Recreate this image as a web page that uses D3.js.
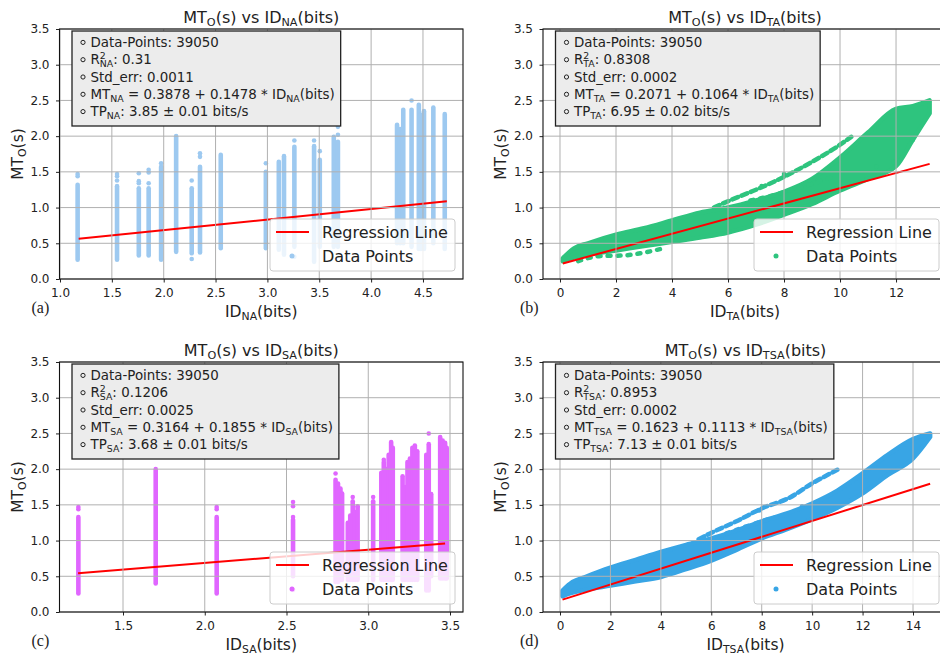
<!DOCTYPE html>
<html>
<head>
<meta charset="utf-8">
<title>MT vs ID</title>
<script src="https://cdn.jsdelivr.net/npm/d3@7"></script>
<style>
  * { margin: 0; padding: 0; }
  body { background: #fff; }
  svg { display: block; font-family: "DejaVu Sans", sans-serif; }
</style>
</head>
<body>
<div id="chart"></div>
<script>
// ---- values ----
var subs = ['NA', 'TA', 'SA', 'TSA'];
var tags = ['(a)', '(b)', '(c)', '(d)'];
var pointCount = ['39050', '39050', '39050', '39050'];
var r2 = ['0.31', '0.8308', '0.1206', '0.8953'];
var stdErr = ['0.0011', '0.0002', '0.0025', '0.0002'];
var intercept = ['0.3878', '0.2071', '0.3164', '0.1623'];
var slope = ['0.1478', '0.1064', '0.1855', '0.1113'];
var tp = ['3.85', '6.95', '3.68', '7.13'];
var tpErr = ['0.01', '0.02', '0.01', '0.01'];
var colors = ['#9dc9f0', '#2ec47e', '#e066ff', '#38a5e5'];

var yTicks = [0, 0.5, 1, 1.5, 2, 2.5, 3, 3.5];
var xTicksNA = [1, 1.5, 2, 2.5, 3, 3.5, 4, 4.5];
var xTicksTA = [0, 2, 4, 6, 8, 10, 12];
var xTicksSA = [1.5, 2, 2.5, 3, 3.5];
var xTicksTSA = [0, 2, 4, 6, 8, 10, 12, 14];

// regression line end points
var regNA = [[1.18, 0.562], [4.73, 1.087]];
var regTA = [[0.1, 0.218], [13.2, 1.612]];
var regSA = [[1.225, 0.543], [3.47, 0.960]];
var regTSA = [[0.1, 0.173], [14.68, 1.796]];

// (a) vertical strips: [ID, lowest MT, highest MT] and loose points
var colsNA = [
  [1.17, 0.27, 1.32], [1.55, 0.27, 1.30], [1.76, 0.33, 1.27], [1.855, 0.33, 1.27],
  [1.975, 0.27, 1.57], [2.12, 0.38, 2.0], [2.27, 0.36, 1.27], [2.35, 0.37, 1.57],
  [2.55, 0.43, 1.74], [2.985, 0.43, 1.5], [3.11, 0.41, 1.64], [3.16, 0.34, 1.72],
  [3.26, 0.45, 1.85], [3.45, 0.24, 1.86], [3.505, 0.45, 1.67], [3.64, 0.45, 1.99],
  [3.68, 0.45, 1.92], [4.25, 0.5, 2.16], [4.28, 0.5, 2.1], [4.31, 0.5, 2.37],
  [4.39, 0.45, 2.37], [4.46, 0.42, 2.44], [4.48, 0.42, 2.3], [4.51, 0.42, 2.35],
  [4.60, 0.5, 2.40], [4.71, 0.42, 2.31]
];
var dotsNA = [
  [1.17, 1.47], [1.17, 1.44], [1.55, 1.47], [1.55, 1.44], [1.55, 1.38],
  [1.76, 1.48], [1.76, 1.37], [1.76, 1.34], [1.855, 1.53], [1.855, 1.49],
  [1.855, 1.34], [1.975, 1.62], [2.27, 1.38], [2.27, 0.28], [2.35, 1.76],
  [2.35, 1.71], [2.985, 1.62], [3.26, 1.94], [3.26, 0.31], [3.45, 1.94],
  [3.505, 1.79], [3.68, 2.13], [3.68, 2.02], [4.39, 2.5]
];

// (c) vertical strips and loose points
var colsSA = [
  [1.227, 0.26, 1.33], [1.70, 0.40, 2.0], [2.073, 0.26, 1.33], [2.54, 0.5, 1.29],
  [2.80, 0.42, 1.85], [2.815, 0.42, 1.8], [2.83, 0.45, 1.73], [2.84, 0.45, 1.66],
  [2.875, 0.45, 1.25], [2.89, 0.45, 1.35], [2.905, 0.45, 1.55], [2.92, 0.45, 1.4],
  [2.935, 0.45, 1.47], [3.03, 0.45, 1.55], [3.08, 0.45, 1.95], [3.095, 0.45, 2.1],
  [3.11, 0.45, 2.0], [3.125, 0.45, 2.2], [3.14, 0.45, 2.38], [3.15, 0.45, 2.3],
  [3.21, 0.45, 1.9], [3.225, 0.45, 1.75], [3.24, 0.45, 2.1], [3.255, 0.45, 2.15],
  [3.27, 0.45, 2.3], [3.285, 0.45, 2.33], [3.30, 0.45, 2.25], [3.355, 0.3, 2.2],
  [3.37, 0.3, 2.35], [3.385, 0.5, 1.65], [3.44, 0.47, 2.45], [3.455, 0.47, 2.4],
  [3.47, 0.47, 2.37], [3.48, 0.47, 2.3]
];
var dotsSA = [
  [1.227, 1.47], [1.227, 1.44], [2.073, 1.47], [2.073, 1.44], [2.54, 1.54],
  [2.54, 1.48], [2.54, 1.33], [2.54, 0.31], [3.37, 2.5], [2.80, 1.94],
  [2.905, 1.61], [2.935, 1.48], [3.095, 2.13], [3.03, 1.61]
];

// (b) dense band: ID, lower MT edge, upper MT edge, plus thin streaks
var bandTAx = [0.1, 0.5, 1, 2, 3, 4, 5, 6, 7, 8, 9, 10, 11, 12, 12.6, 13.2];
var bandTAlo = [0.25, 0.3, 0.34, 0.4, 0.46, 0.52, 0.58, 0.65, 0.76, 0.9, 1.05, 1.24, 1.4, 1.58, 1.95, 2.32];
var bandTAhi = [0.29, 0.43, 0.5, 0.62, 0.71, 0.82, 0.93, 1.0, 1.1, 1.22, 1.4, 1.7, 2.05, 2.38, 2.42, 2.5];
var streaksTA = [
  [[5.5, 1.0], [5.95, 1.08], [7.0, 1.25], [8.0, 1.43], [9.0, 1.64], [10.0, 1.88], [10.4, 1.99]],
  [[0.65, 0.25], [1.4, 0.32], [2.3, 0.33], [3.0, 0.37], [3.7, 0.43]],
  [[6.8, 1.1], [7.6, 1.17], [8.2, 1.24], [8.9, 1.32], [9.75, 1.43]]
];
var dotsTA = [[12.6, 1.95], [11.9, 1.64], [11.3, 1.57], [8.0, 1.47], [7.2, 1.3]];

// (d) dense band and streaks
var bandTSAx = [0.1, 0.5, 1, 2, 3, 4, 5, 6, 7, 8, 9, 10, 11, 12, 13, 14, 14.68];
var bandTSAlo = [0.22, 0.27, 0.31, 0.37, 0.43, 0.49, 0.6, 0.72, 0.87, 1.03, 1.16, 1.3, 1.46, 1.66, 1.92, 2.15, 2.45];
var bandTSAhi = [0.3, 0.42, 0.49, 0.62, 0.73, 0.84, 0.94, 1.03, 1.14, 1.27, 1.38, 1.52, 1.7, 1.94, 2.2, 2.42, 2.5];
var streaksTSA = [
  [[5.5, 1.02], [5.95, 1.1], [7.0, 1.27], [8.0, 1.45], [9.1, 1.6], [10.0, 1.8], [11.0, 1.99]],
  [[6.6, 1.1], [7.4, 1.2], [8.3, 1.3], [9.2, 1.38]]
];
var dotsTSA = [[7.9, 1.42], [8.1, 1.47], [12.2, 1.94], [10.2, 1.54], [9.6, 1.48]];

// ---- layout ----
var W = 940, H = 658;
var panels = [
  {l: 59.5, t: 29, r: 463, b: 279, xdom: [0.9952, 4.886], xt: xTicksNA, fmt: '.1f', reg: regNA, cols: colsNA, dots: dotsNA, tagX: 31.5},
  {l: 543, t: 29, r: 947, b: 279, xdom: [-0.607, 13.82], xt: xTicksTA, fmt: 'd', reg: regTA, band: [bandTAx, bandTAlo, bandTAhi], streaks: streaksTA, dots: dotsTA, tagX: 520},
  {l: 59.5, t: 362, r: 463, b: 612, xdom: [1.1116, 3.5795], xt: xTicksSA, fmt: '.1f', reg: regSA, cols: colsSA, dots: dotsSA, tagX: 31.5},
  {l: 543, t: 362, r: 948, b: 612, xdom: [-0.674, 15.388], xt: xTicksTSA, fmt: 'd', reg: regTSA, band: [bandTSAx, bandTSAlo, bandTSAhi], streaks: streaksTSA, dots: dotsTSA, tagX: 520}
];

var svg = d3.select('#chart').append('svg')
    .attr('width', W).attr('height', H)
    .attr('viewBox', '0 0 ' + W + ' ' + H);
var defs = svg.append('defs');

// text with mathtext-like sub/superscripts
function rich(sel, parts, fs) {
  var cur = 0, small = fs * 0.7;
  var subShift = fs * 0.22, supShift = -fs * 0.4;
  parts.forEach(function(p) {
    var s = p[0], k = p[1] || '';
    if (k === 'supsub') {
      sel.append('tspan').attr('font-size', small).attr('dy', supShift - cur).text(s[0]);
      sel.append('tspan').attr('font-size', small)
        .attr('dx', -small * 0.636 * s[0].length)
        .attr('dy', subShift - supShift).text(s[1]);
      cur = subShift;
    } else {
      var shift = k === 'sub' ? subShift : 0;
      var t = sel.append('tspan').attr('dy', shift - cur).text(s);
      if (k === 'sub') t.attr('font-size', small);
      cur = shift;
    }
  });
}

panels.forEach(function(P, i) {
  var sub = subs[i], col = colors[i];
  var g = svg.append('g');
  var x = d3.scaleLinear().domain(P.xdom).range([P.l, P.r]);
  var y = d3.scaleLinear().domain([0, 3.5]).range([P.b, P.t]);

  defs.append('clipPath').attr('id', 'clip' + i).append('rect')
      .attr('x', P.l).attr('y', P.t).attr('width', P.r - P.l).attr('height', P.b - P.t);
  var plot = g.append('g').attr('clip-path', 'url(#clip' + i + ')');

  // scatter points
  if (P.cols) {
    plot.selectAll('line.col').data(P.cols).enter().append('line')
        .attr('class', 'col')
        .attr('x1', function(d) { return x(d[0]); })
        .attr('x2', function(d) { return x(d[0]); })
        .attr('y1', function(d) { return y(d[1]); })
        .attr('y2', function(d) { return y(d[2]); })
        .attr('stroke', col).attr('stroke-width', 4.6).attr('stroke-linecap', 'round');
  }
  if (P.band) {
    var area = d3.area()
        .x(function(d) { return x(d[0]); })
        .y0(function(d) { return y(d[1]); })
        .y1(function(d) { return y(d[2]); })
        .curve(d3.curveMonotoneX);
    plot.append('path').datum(d3.zip(P.band[0], P.band[1], P.band[2]))
        .attr('d', area).attr('fill', col).attr('stroke', col)
        .attr('stroke-width', 4.5).attr('stroke-linejoin', 'round');
    var line = d3.line()
        .x(function(d) { return x(d[0]); })
        .y(function(d) { return y(d[1]); })
        .curve(d3.curveMonotoneX);
    plot.selectAll('path.streak').data(P.streaks).enter().append('path')
        .attr('class', 'streak')
        .attr('d', line).attr('fill', 'none').attr('stroke', col)
        .attr('stroke-width', 4.5).attr('stroke-linecap', 'round')
        .attr('stroke-dasharray', function(d, k) { return k === 0 ? '6 4' : '3 7'; });
  }
  plot.selectAll('circle.dot').data(P.dots).enter().append('circle')
      .attr('class', 'dot')
      .attr('cx', function(d) { return x(d[0]); })
      .attr('cy', function(d) { return y(d[1]); })
      .attr('r', 2.3).attr('fill', col);

  // grid (drawn over the points, as matplotlib does)
  g.append('g').selectAll('line').data(P.xt).enter().append('line')
      .attr('x1', function(d) { return x(d); }).attr('x2', function(d) { return x(d); })
      .attr('y1', P.t).attr('y2', P.b)
      .attr('stroke', '#b0b0b0').attr('stroke-width', 1);
  g.append('g').selectAll('line').data(yTicks).enter().append('line')
      .attr('x1', P.l).attr('x2', P.r)
      .attr('y1', function(d) { return y(d); }).attr('y2', function(d) { return y(d); })
      .attr('stroke', '#b0b0b0').attr('stroke-width', 1);

  // regression line
  plot.append('path').datum(P.reg)
      .attr('d', d3.line().x(function(d) { return x(d[0]); }).y(function(d) { return y(d[1]); }))
      .attr('stroke', '#ff0000').attr('stroke-width', 2).attr('fill', 'none');

  // axes
  var xa = g.append('g').attr('transform', 'translate(0,' + P.b + ')')
      .call(d3.axisBottom(x).tickValues(P.xt).tickSize(3.5).tickPadding(5.5)
        .tickFormat(d3.format(P.fmt)));
  var ya = g.append('g').attr('transform', 'translate(' + P.l + ',0)')
      .call(d3.axisLeft(y).tickValues(yTicks).tickSize(3.5).tickPadding(6.5)
        .tickFormat(d3.format('.1f')));
  [xa, ya].forEach(function(a) {
    a.select('.domain').remove();
    a.selectAll('text').attr('font-size', 12).attr('fill', '#222')
        .attr('font-family', '"DejaVu Sans", sans-serif');
    a.selectAll('line').attr('stroke', '#222');
  });

  g.append('rect').attr('x', P.l).attr('y', P.t)
      .attr('width', P.r - P.l).attr('height', P.b - P.t)
      .attr('fill', 'none').attr('stroke', '#111').attr('stroke-width', 1.1);

  // info box
  var box = g.append('rect').attr('x', P.l + 12.5).attr('y', P.t + 2)
      .attr('height', 95).attr('fill', '#ececec')
      .attr('stroke', '#222').attr('stroke-width', 1.3);
  var fs = 13.4;
  var lines = [
    [['Data-Points: ' + pointCount[i]]],
    [['R'], [['2', sub], 'supsub'], [': ' + r2[i]]],
    [['Std_err: ' + stdErr[i]]],
    [['MT'], [sub, 'sub'], [' = ' + intercept[i] + ' + ' + slope[i] + ' * ID'], [sub, 'sub'], ['(bits)']],
    [['TP'], [sub, 'sub'], [': ' + tp[i] + ' \u00b1 ' + tpErr[i] + ' bits/s']]
  ];
  var maxRight = 0;
  lines.forEach(function(parts, k) {
    var base = P.t + 2 + 16 + k * 17.3;
    g.append('circle').attr('cx', P.l + 23.5).attr('cy', base - 4.6).attr('r', 2.1)
        .attr('fill', 'none').attr('stroke', '#222').attr('stroke-width', 1);
    var t = g.append('text').attr('x', P.l + 31).attr('y', base)
        .attr('font-size', fs).attr('fill', '#222');
    rich(t, parts, fs);
    var bb = t.node().getBBox();
    maxRight = Math.max(maxRight, bb.x + bb.width);
  });
  box.attr('width', maxRight + 6 - (P.l + 12.5));

  // legend
  var LW = 185, LH = 52;
  var lx = Math.min(P.r, W + 7) - 8 - LW, ly = P.b - 8 - LH;
  var leg = g.append('g');
  leg.append('rect').attr('x', lx).attr('y', ly).attr('width', LW).attr('height', LH)
      .attr('rx', 3).attr('fill', '#fff').attr('fill-opacity', 0.8)
      .attr('stroke', '#cccccc').attr('stroke-width', 1);
  leg.append('line').attr('x1', lx + 6).attr('x2', lx + 39)
      .attr('y1', ly + 13).attr('y2', ly + 13)
      .attr('stroke', '#ff0000').attr('stroke-width', 2);
  leg.append('circle').attr('cx', lx + 22).attr('cy', ly + 37).attr('r', 2.5).attr('fill', col);
  leg.append('text').attr('x', lx + 52).attr('y', ly + 19).attr('font-size', 16)
      .attr('fill', '#222').text('Regression Line');
  leg.append('text').attr('x', lx + 52).attr('y', ly + 43).attr('font-size', 16)
      .attr('fill', '#222').text('Data Points');

  // titles and labels
  var cx = (P.l + P.r) / 2;
  var title = g.append('text').attr('x', cx).attr('y', P.t - 6.5)
      .attr('text-anchor', 'middle').attr('font-size', 16).attr('fill', '#222');
  rich(title, [['MT'], ['O', 'sub'], ['(s) vs ID'], [sub, 'sub'], ['(bits)']], 16);
  var xl = g.append('text').attr('x', cx).attr('y', P.b + 38)
      .attr('text-anchor', 'middle').attr('font-size', 15.5).attr('fill', '#222');
  rich(xl, [['ID'], [sub, 'sub'], ['(bits)']], 15.5);
  var yl = g.append('text')
      .attr('transform', 'translate(' + (P.l - 37) + ',' + ((P.t + P.b) / 2) + ') rotate(-90)')
      .attr('text-anchor', 'middle').attr('font-size', 15.5).attr('fill', '#222');
  rich(yl, [['MT'], ['O', 'sub'], ['(s)']], 15.5);
  g.append('text').attr('x', P.tagX).attr('y', P.b + 34)
      .attr('font-family', '"Liberation Serif", "Times New Roman", serif')
      .attr('font-size', 16).attr('fill', '#222').text(tags[i]);
});
</script>
</body>
</html>
